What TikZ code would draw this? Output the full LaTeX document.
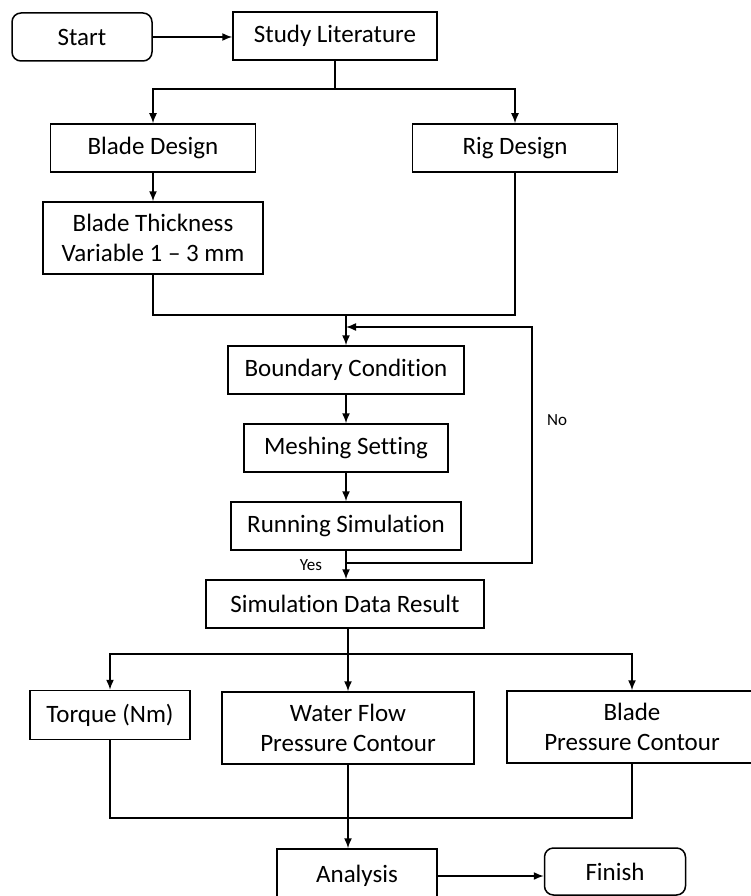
\documentclass[tikz,border=0pt]{standalone}
\usepackage{fontspec}
\setmainfont{Carlito}[Ligatures={TeX,NoCommon}]
\usetikzlibrary{arrows.meta}

\tikzset{
  box/.style={draw, line width=1.5pt, minimum height=48pt, align=center, inner sep=2pt},
  term/.style={box, rounded corners=9pt},
  link/.style={line width=1.5pt},
  flow/.style={link, -{Latex[length=10pt,width=8pt]}},
  small/.style={font=\fontsize{17}{19}\selectfont},
}

\begin{document}
\begin{tikzpicture}[x=1pt,y=-1pt,font=\fontsize{25}{30}\selectfont]
\useasboundingbox (0,0) rectangle (750,896);

\node[term, minimum width=140pt] (start) at (82,37) {Start};
\node[box, minimum width=204pt] (study) at (335,36) {Study Literature};

\node[box, minimum width=205pt] (blade) at (153,148) {Blade Design};
\node[box, minimum width=205pt] (rig) at (515,148) {Rig Design};
\node[box, minimum width=220pt, minimum height=72pt] (thick) at (153,238) {Blade Thickness\\Variable 1 \textendash{} 3 mm};

\node[box, minimum width=236pt] (bound) at (346,370) {Boundary Condition};
\node[box, minimum width=204pt] (mesh) at (346,448) {Meshing Setting};
\node[box, minimum width=230pt] (run) at (346,526) {Running Simulation};
\node[box, minimum width=278pt] (sim) at (345,604) {Simulation Data Result};

\node[box, minimum width=160pt, minimum height=49pt] (torque) at (110,715) {Torque (Nm)};
\node[box, minimum width=252pt, minimum height=72pt] (water) at (348,728) {Water Flow\\Pressure Contour};
\node[box, minimum width=250pt, minimum height=72pt] (bladep) at (632,727) {Blade\\Pressure Contour};

\node[box, minimum width=160pt, minimum height=54pt] (analysis) at (357,876) {Analysis};
\node[term, minimum width=141pt, minimum height=47pt] (finish) at (615,871.5) {Finish};

\node[small] (yes) at (311,565) {Yes};
\node[small] (no) at (557,420) {No};

% top part
\coordinate (fork) at (335,89);
\coordinate (join) at (346,315);
\draw[flow] (start.east) -- (start.east -| study.west);
\draw[link] (study) -- (fork);
\draw[flow] (fork) -| (blade);
\draw[flow] (fork) -| (rig);
\draw[flow] (blade) -- (thick);
\draw[link] (thick) |- (join);
\draw[link] (rig) |- (join);
\draw[flow] (join) -- (bound);

% simulation loop
\coordinate (back) at (346,563);
\coordinate (loop) at (346,327);
\draw[flow] (bound) -- (mesh);
\draw[flow] (mesh) -- (run);
\draw[flow] (run) -- (run.south |- sim.north);
\draw[flow] (back) -- ++(186,0) |- (loop);

% results
\coordinate (split) at (348,654);
\coordinate (merge) at (348,818);
\draw[link] (sim.south -| split) -- (split);
\draw[flow] (split) -| (torque);
\draw[flow] (split) -- (water);
\draw[flow] (split) -| (bladep);
\draw[link] (torque) |- (merge);
\draw[link] (bladep) |- (merge);
\draw[flow] (water) -- (water.south |- analysis.north);
\draw[flow] (analysis.east) -- (analysis.east -| finish.west);
\end{tikzpicture}
\end{document}
